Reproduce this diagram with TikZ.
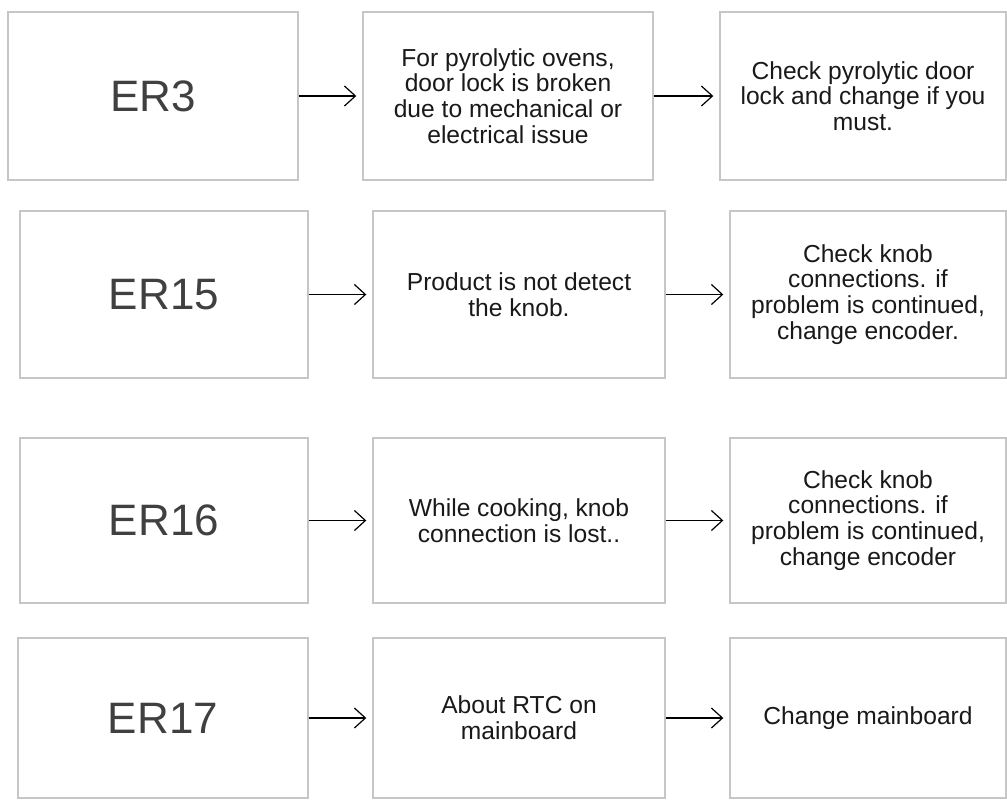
\documentclass[tikz,border=0pt]{standalone}
\usepackage{fontspec}
\setmainfont{Liberation Sans}
\usetikzlibrary{graphs,arrows.meta}

\begin{document}
\begin{tikzpicture}[
			x=0.5pt, y=-0.5pt,
			>={Straight Barb[length=5.5pt,width=10pt]},
			box/.style={draw=gray!45, line width=0.7pt, fill=white, inner sep=0pt},
			code/.style={box, font={\fontsize{22}{25}\selectfont}, text=black!75},
			info/.style={box, align=center, font={\fontsize{12.3}{12.9}\selectfont}, text=black!90}
	]
	\useasboundingbox (0,0) rectangle (1007,800);
% >> row ER3
	\node[code, minimum width=145pt, minimum height=84pt] (er3) at (153,96) {ER3};
	\node[info, minimum width=145pt, minimum height=84pt] (lock) at (508,96)
		{For pyrolytic ovens,\\door lock is broken\\due to mechanical or\\electrical issue};
	\node[info, minimum width=143pt, minimum height=84pt] (lockfix) at (863,96)
		{Check pyrolytic door\\lock and change if you\\must.};
% >> row ER15
	\node[code, minimum width=144pt, minimum height=83.5pt] (er15) at (164,294.5) {ER15};
	\node[info, minimum width=146pt, minimum height=83.5pt] (knob) at (519,294.5)
		{Product is not detect\\the knob.};
	\node[info, minimum width=138pt, minimum height=83.5pt] (knobfix) at (868,294.5)
		{Check knob\\connections. if\\problem is continued,\\change encoder.};
% >> row ER16
	\node[code, minimum width=144pt, minimum height=82.5pt] (er16) at (164,520.5) {ER16};
	\node[info, minimum width=146pt, minimum height=82.5pt] (lost) at (519,520.5)
		{While cooking, knob\\connection is lost..};
	\node[info, minimum width=138pt, minimum height=82.5pt] (lostfix) at (868,520.5)
		{Check knob\\connections. if\\problem is continued,\\change encoder};
% >> row ER17
	\node[code, minimum width=145pt, minimum height=80pt] (er17) at (163,718) {ER17};
	\node[info, minimum width=146pt, minimum height=80pt] (rtc) at (519,718)
		{About RTC on\\mainboard};
	\node[info, minimum width=138pt, minimum height=80pt] (rtcfix) at (868,718)
		{Change mainboard};
% >> part2
	\graph [use existing nodes,
			edges={line width=0.6pt, shorten >=3pt}
			]{
		er3 -> lock -> lockfix;
		er15 -> knob -> knobfix;
		er16 -> lost -> lostfix;
		er17 -> rtc -> rtcfix;
	};
\end{tikzpicture}
\end{document}
